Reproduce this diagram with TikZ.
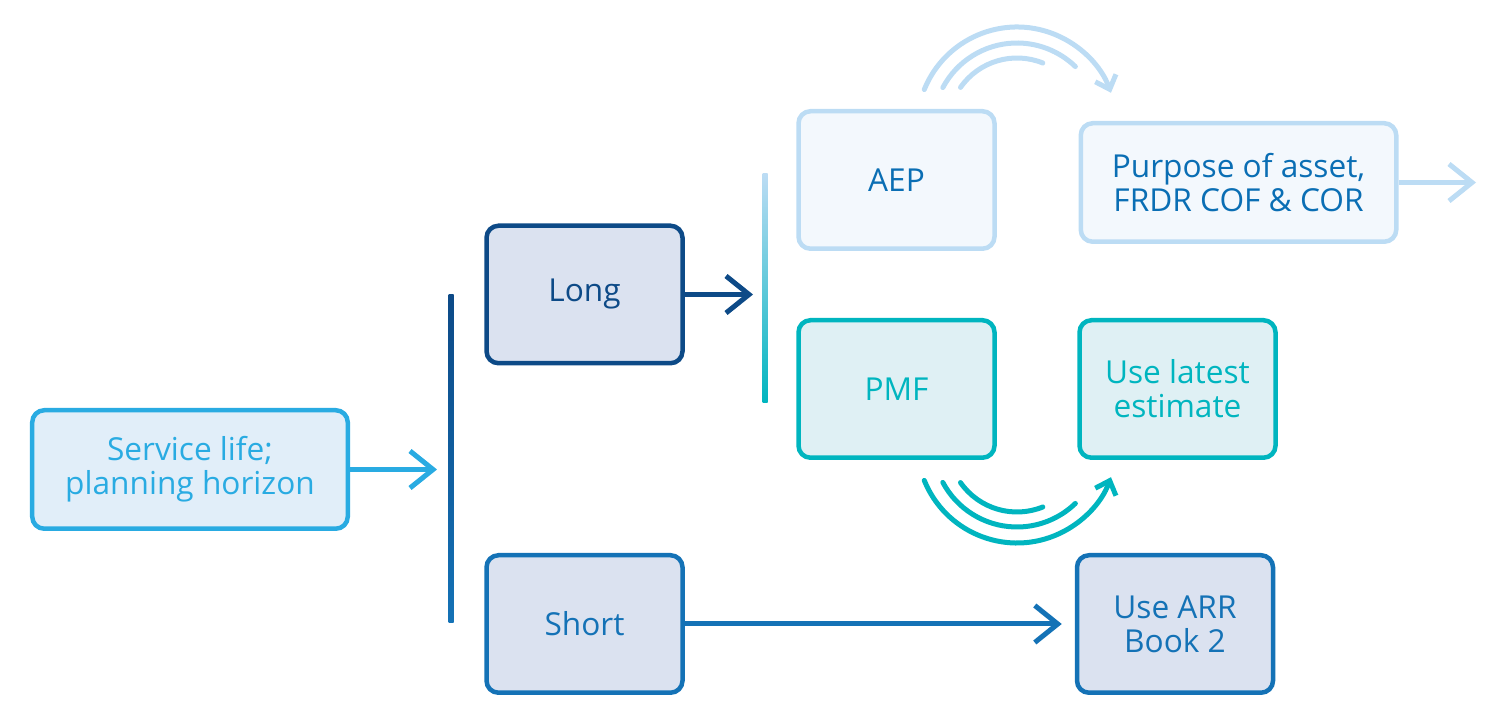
\documentclass[tikz,border=0pt]{standalone}
\usepackage{fontspec}
\setmainfont{Open Sans}
\usetikzlibrary{arrows.meta}

\definecolor{skyline}{HTML}{29ABE2}
\definecolor{skyfill}{HTML}{E1EEF9}
\definecolor{navy}{HTML}{0D4A87}
\definecolor{midblue}{HTML}{1472B6}
\definecolor{boxfill}{HTML}{DBE2F0}
\definecolor{paleline}{HTML}{BCDCF4}
\definecolor{palefill}{HTML}{F3F8FD}
\definecolor{paletext}{HTML}{0A6EB4}
\definecolor{tealline}{HTML}{00B5BF}
\definecolor{tealfill}{HTML}{DFF0F4}

\tikzset{
  box/.style={draw, rounded corners=2.4mm, line width=0.9mm, align=center, inner sep=0pt,
    font=\fontsize{18pt}{19.5pt}\selectfont, minimum width=39.2mm, minimum height=27.5mm},
  widebox/.style={box, minimum width=63.1mm, minimum height=23.7mm},
  chev/.style={-{Straight Barb[sharp,length=4.6mm,width=7.4mm]}, line width=1mm},
  swirl/.style={line width=1mm, line cap=round},
  swirltip/.style={swirl, -{Straight Barb[length=2.4mm,width=4.4mm]}},
}

\begin{document}
\begin{tikzpicture}[x=0.2mm,y=0.2mm]
	\useasboundingbox (0,0) rectangle (1500,720);

	% boxes
	\node[widebox, draw=skyline, fill=skyfill, text=skyline] (service) at (190,250.5) {Service life;\\planning horizon};
	\node[box, draw=navy, fill=boxfill, text=navy] (long) at (584.5,425.5) {Long};
	\node[box, draw=midblue, fill=boxfill, text=midblue] (short) at (584.5,96) {Short};
	\node[box, draw=paleline, fill=palefill, text=paletext] (aep) at (896.5,540) {AEP};
	\node[widebox, draw=paleline, fill=palefill, text=paletext] (purpose) at (1238.5,537.5) {Purpose of asset,\\FRDR COF \& COR};
	\node[box, draw=tealline, fill=tealfill, text=tealline] (pmf) at (896.5,331) {PMF};
	\node[box, draw=tealline, fill=tealfill, text=tealline] (latest) at (1177.5,331) {Use latest\\estimate};
	\node[box, draw=midblue, fill=boxfill, text=midblue] (arr) at (1175,96) {Use ARR\\Book 2};

	% split bars
	\shade[top color=navy, bottom color=midblue] (448.5,97) rectangle (453.5,425);
	\shade[top color=paleline, bottom color=tealline] (762.5,317) rectangle (767.5,546);

	\coordinate (split) at (437,250.5);
	\coordinate (fork) at (753,425.5);
	\coordinate (exit) at (1476,537.5);
	\coordinate (aepturn) at (1017,593);
	\coordinate (pmfturn) at (1017,277);

	\draw[chev, skyline] (service.east) -- (split);
	\draw[chev, navy] (long.east) -- (fork);
	\draw[chev, midblue, shorten >=2.6mm] (short.east) -- (arr.west);
	\draw[chev, paleline] (purpose.east) -- (exit);

	% swirls
	\foreach \r/\a/\b in {84/152/46,69/145/68}
		\draw[swirl, paleline] ([shift={(\a:\r)}]aepturn) arc[start angle=\a, end angle=\b, radius=\r];
	\draw[swirltip, paleline] ([shift={(158:100)}]aepturn) arc[start angle=158, end angle=20, radius=100];
	\foreach \r/\a/\b in {84/208/314,69/215/292}
		\draw[swirl, tealline] ([shift={(\a:\r)}]pmfturn) arc[start angle=\a, end angle=\b, radius=\r];
	\draw[swirltip, tealline] ([shift={(202:100)}]pmfturn) arc[start angle=202, end angle=340, radius=100];
\end{tikzpicture}
\end{document}
